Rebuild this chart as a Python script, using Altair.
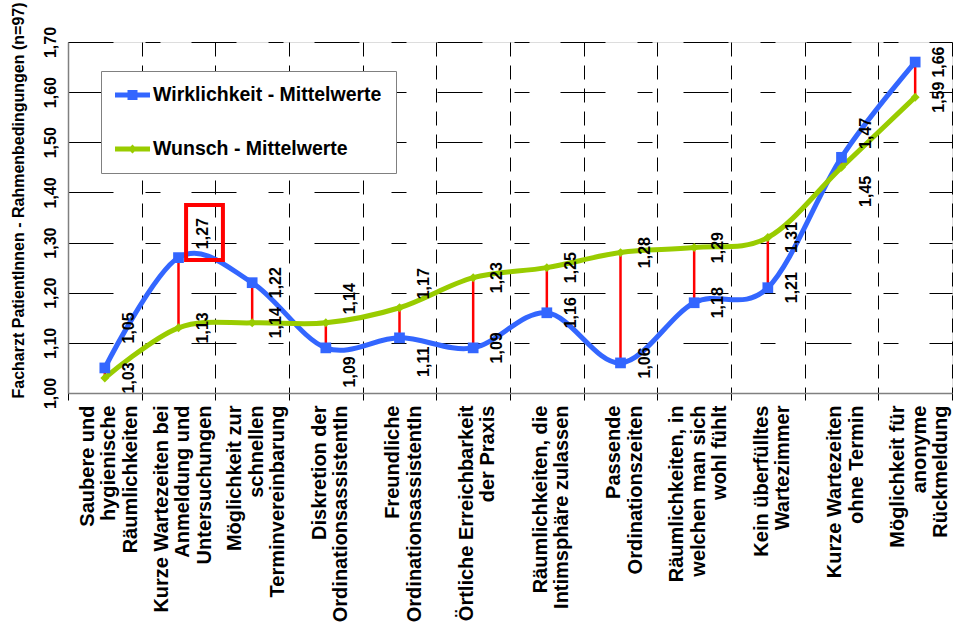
import altair as alt
import pandas as pd

# Categories (line breaks as in the axis labels)
categories = [
    "Saubere und\nhygienische\nRäumlichkeiten",
    "Kurze Wartezeiten bei\nAnmeldung und\nUntersuchungen",
    "Möglichkeit zur\nschnellen\nTerminvereinbarung",
    "Diskretion der\nOrdinationsassistentIn",
    "Freundliche\nOrdinationsassistentIn",
    "Örtliche Erreichbarkeit\nder Praxis",
    "Räumlichkeiten, die\nIntimsphäre zulassen",
    "Passende\nOrdinationszeiten",
    "Räumlichkeiten, in\nwelchen man sich\nwohl fühlt",
    "Kein überfülltes\nWartezimmer",
    "Kurze Wartezeiten\nohne Termin",
    "Möglichkeit für\nanonyme\nRückmeldung",
]
wirklichkeit = [1.05, 1.27, 1.22, 1.09, 1.11, 1.09, 1.16, 1.06, 1.18, 1.21, 1.47, 1.66]
wunsch = [1.03, 1.13, 1.14, 1.14, 1.17, 1.23, 1.25, 1.28, 1.29, 1.31, 1.45, 1.59]
series = ["Wirklichkeit - Mittelwerte", "Wunsch - Mittelwerte"]
y_ticks = [1.0, 1.1, 1.2, 1.3, 1.4, 1.5, 1.6, 1.7]
highlight = categories[1]

colors = ["#3366FF", "#99CC00"]
font = "Liberation Sans"
y_title = "Facharzt PatientInnen - Rahmenbedingungen (n=97)"
line_height = 21.5

# Label placement: labels sit right of their point; when the two values of a
# category are close, the labels are pushed apart to avoid overlapping.
rows = []
for i, cat in enumerate(categories):
    pair = {series[0]: wirklichkeit[i], series[1]: wunsch[i]}
    upper = max(pair, key=pair.get)
    lower = min(pair, key=pair.get)
    close = abs(pair[upper] - pair[lower]) < 0.065
    for s, v in pair.items():
        if s == series[0] and cat == highlight:
            place = "oben"
        elif close and pair[lower] < 1.06:
            place = "hoch" if s == upper else "rechts"
        elif close:
            place = "oben" if s == upper else "unten"
        else:
            place = "rechts"
        rows.append({"Kategorie": cat, "Reihe": s, "Wert": v,
                     "Label": f"{v:.2f}".replace(".", ","), "Platz": place})
long_df = pd.DataFrame(rows)
wide_df = pd.DataFrame({"Kategorie": categories, "Wirklichkeit": wirklichkeit, "Wunsch": wunsch})

# Multi-line labels start at the tick; shift them so the block is centred
n_lines = "length(split(datum.label, '\\n'))"
label_offset = {
    "condition": [
        {"test": f"{n_lines} == 3", "value": 4 - line_height},
        {"test": f"{n_lines} == 2", "value": 4 - line_height / 2},
    ],
    "value": 4,
}

x_enc = alt.X(
    "Kategorie:N",
    sort=categories,
    scale=alt.Scale(type="band", paddingInner=0, paddingOuter=0),
    axis=alt.Axis(
        title=None,
        labelAngle=270,
        labelAlign="right",
        labelBaseline="middle",
        labelExpr="split(datum.label, '\\n')",
        labelOffset=label_offset,
        labelFont=font,
        labelFontSize=20,
        labelFontWeight="bold",
        labelColor="black",
        labelLineHeight=line_height,
        labelPadding=5,
        labelLimit=400,
        labelOverlap=False,
        tickSize=7,
        tickColor="black",
        tickBand="extent",
        grid=True,
        gridDash=[14, 9],
        gridColor="black",
        gridWidth=1,
        domainColor="#808080",
        domainWidth=1.5,
    ),
)

y_scale = alt.Scale(domain=[1.0, 1.7], nice=False, zero=False)
y_axis = alt.Axis(
    values=y_ticks,
    labelExpr="replace(format(datum.value, '.2f'), '.', ',')",
    labelAngle=270,
    labelAlign="center",
    labelBaseline="middle",
    labelPadding=18,
    labelFont=font,
    labelFontSize=16,
    labelFontWeight="bold",
    labelColor="black",
    ticks=False,
    grid=True,
    gridDash=[45, 32, 15, 31],
    gridColor="black",
    gridWidth=1,
    domainColor="#808080",
    domainWidth=1.5,
    title=y_title,
    titleFont=font,
    titleFontSize=16,
    titleFontWeight="bold",
    titleColor="black",
    titleAngle=270,
    titleAlign="center",
    titleBaseline="middle",
    titleX=-50,
    titleY=158,
)

def y_enc(field):
    return alt.Y(field, scale=y_scale, axis=y_axis, title=y_title)

# Legend symbols: a line segment with the series marker, drawn wider than the
# nominal symbol box (unit = 10 px) and reaching into the label offset
legend_shapes = [
    "M-1,-0.25L2.5,-0.25L2.5,0.25L-1,0.25Z M0.25,-0.5L1.25,-0.5L1.25,0.5L0.25,0.5Z",
    "M-1,-0.25L2.5,-0.25L2.5,0.25L-1,0.25Z M0.75,-0.45L1.2,0L0.75,0.45L0.3,0Z",
]
legend_def = alt.Legend(
    title=None, orient="none", legendX=33, legendY=29,
    labelFont=font, labelFontSize=19.5, labelFontWeight="bold", labelColor="black",
    labelLimit=500, labelOffset=18, symbolSize=400, symbolStrokeWidth=0, symbolOpacity=1,
    padding=14, rowPadding=34, strokeColor="#808080", fillColor="white",
)
color_enc = alt.Color("Reihe:N", scale=alt.Scale(domain=series, range=colors), legend=legend_def)

base = alt.Chart(long_df)

# Red connectors between reality and wish
rules = alt.Chart(wide_df).mark_rule(color="#FF0000", strokeWidth=2.5).encode(
    x=x_enc,
    y=y_enc("Wirklichkeit:Q"),
    y2="Wunsch:Q",
)

lines = base.mark_line(interpolate="cardinal", strokeWidth=5).encode(
    x=x_enc,
    y=y_enc("Wert:Q"),
    color=color_enc,
)

# Carries the legend symbols (line + marker); the marks themselves are size 0
legend_points = base.mark_point(filled=True, opacity=1).encode(
    x=x_enc,
    y=y_enc("Wert:Q"),
    color=color_enc,
    shape=alt.Shape("Reihe:N", scale=alt.Scale(domain=series, range=legend_shapes), legend=legend_def),
    size=alt.value(0),
)

markers = base.mark_point(filled=True, opacity=1).encode(
    x=x_enc,
    y=y_enc("Wert:Q"),
    fill=alt.condition(alt.datum.Reihe == series[0], alt.value(colors[0]), alt.value(colors[1])),
    shape=alt.condition(alt.datum.Reihe == series[0], alt.value("square"), alt.value("diamond")),
    size=alt.condition(alt.datum.Reihe == series[0], alt.value(115), alt.value(80)),
)

# Value labels, rotated, to the right of each point
lifts = {"rechts": 0, "oben": -24, "unten": 24, "hoch": -40}
label_layers = []
for place, lift in lifts.items():
    label_layers.append(
        base.transform_filter(alt.datum.Platz == place)
        .mark_text(angle=270, align="center", baseline="middle", font=font,
                   fontSize=16, fontWeight="bold", color="black",
                   xOffset=24, yOffset=lift)
        .encode(x=x_enc, y=y_enc("Wert:Q"), text="Label:N")
    )

# Frame around the highlighted value label
box_path = "M-0.67,-1L0.67,-1L0.67,1L-0.67,1Z"
box = base.transform_filter(
    (alt.datum.Kategorie == highlight) & (alt.datum.Reihe == series[0])
).mark_point(shape=box_path, size=3025, filled=False, stroke="#FF0000",
             strokeWidth=4, opacity=1, xOffset=26, yOffset=-25).encode(
    x=x_enc,
    y=y_enc("Wert:Q"),
)

chart = alt.layer(rules, lines, legend_points, markers, *label_layers, box).properties(
    width=884,
    height=351,
    autosize=alt.AutoSizeParams(type="none"),
    padding={"left": 68, "top": 42, "right": 2, "bottom": 229},
    background="white",
).configure_view(stroke=None).configure(font=font)

chart.save("out.html", embed_options={"renderer": "svg", "actions": False})
